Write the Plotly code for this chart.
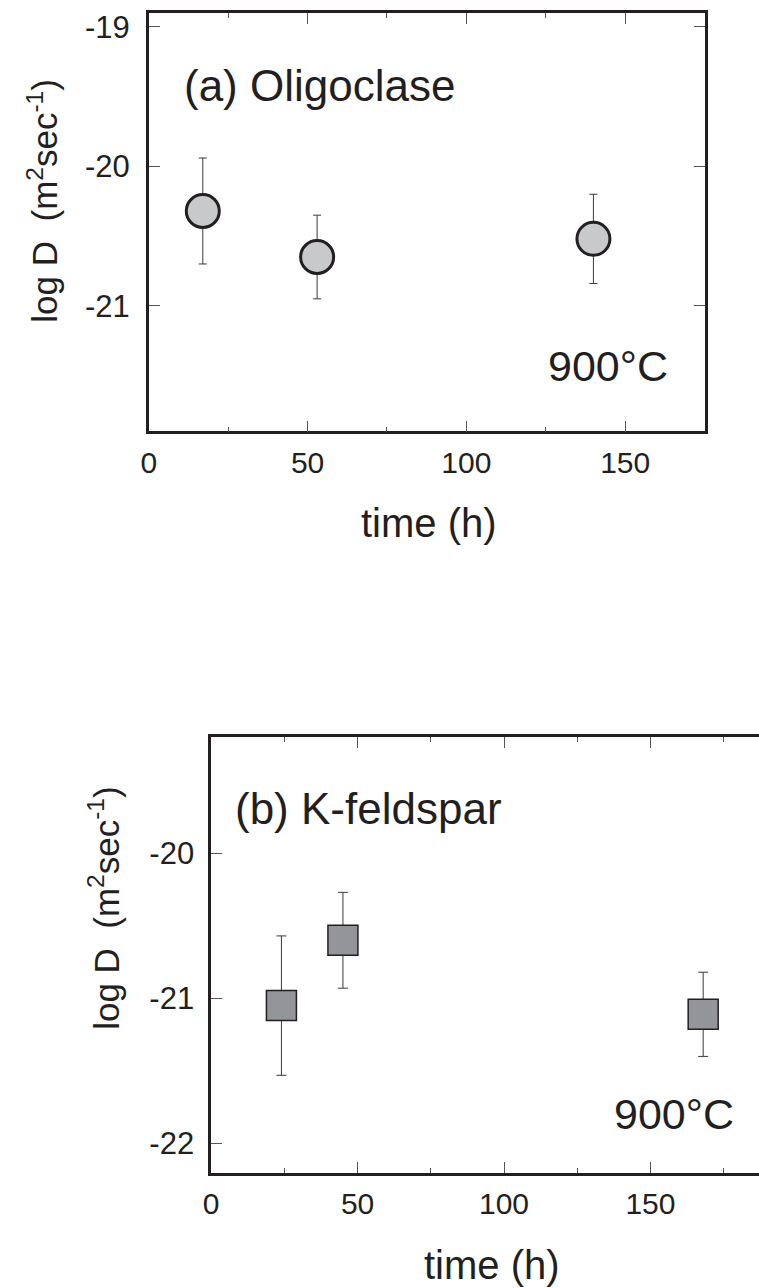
import plotly.graph_objects as go

# ---- data ----
olig_time = [17, 53, 140]
olig_logD = [-20.32, -20.65, -20.52]
olig_err = [0.38, 0.30, 0.32]

kfs_time = [24, 45, 168]
kfs_logD = [-21.05, -20.60, -21.11]
kfs_err = [0.48, 0.33, 0.29]

x_major = [0, 50, 100, 150]
x_minor = [25, 75, 125, 175]
y_ticks_a = [-19, -20, -21]
y_ticks_b = [-20, -21, -22]
y_text_a = ['-19', '-20', '-21']
y_text_b = ['-20', '-21', '-22']

W, H = 759, 1288
INK = '#231f20'
FONT = 'Liberation Sans, Arial, Helvetica, sans-serif'


def px_x(p):
    return p / W


def px_y(p):
    return 1 - p / H


fig = go.Figure()

fig.add_trace(go.Scatter(
    x=olig_time, y=olig_logD, mode='markers', xaxis='x', yaxis='y',
    error_y=dict(type='data', array=olig_err, color='#3a3a3a', thickness=1, width=4),
    marker=dict(symbol='circle', size=33, color='#c8c9cb', line=dict(color=INK, width=3)),
    showlegend=False))

fig.add_trace(go.Scatter(
    x=kfs_time, y=kfs_logD, mode='markers', xaxis='x2', yaxis='y2',
    error_y=dict(type='data', array=kfs_err, color='#3a3a3a', thickness=1, width=5),
    marker=dict(symbol='square', size=30, color='#939598', line=dict(color=INK, width=1.5)),
    showlegend=False))

axis_common = dict(showgrid=False, zeroline=False, showline=True, linecolor=INK, linewidth=2.5,
                   ticks='inside', ticklen=11, tickwidth=1, tickcolor='#555')
xfont = dict(family=FONT, size=30, color=INK)
yfont = dict(family=FONT, size=31, color=INK)
minor_x = dict(tickvals=x_minor, ticks='inside', ticklen=5, tickwidth=1, tickcolor='#555')

fig.update_layout(
    width=W, height=H, margin=dict(l=0, r=0, t=0, b=0),
    paper_bgcolor='white', plot_bgcolor='white',
    xaxis=dict(**axis_common, domain=[px_x(142.3), px_x(704)], range=[0, 175], anchor='y',
               tickvals=x_major, mirror='ticks', tickfont=xfont, ticklabelstandoff=3, minor=minor_x),
    yaxis=dict(**axis_common, domain=[px_y(429.3), px_y(10)], range=[-21.9, -18.9], anchor='x',
               tickvals=y_ticks_a, ticktext=y_text_a, mirror='ticks', tickfont=yfont, ticklabelstandoff=10),
    xaxis2=dict(**axis_common, domain=[px_x(205.3), 1.0], range=[0, (W - 205.3) / 2.96], anchor='y2',
                tickvals=x_major, mirror='ticks', tickfont=xfont, ticklabelstandoff=3, minor=minor_x),
    yaxis2=dict(**axis_common, domain=[px_y(1172.3), px_y(735.7)], range=[-22.2, -19.2], anchor='x2',
                tickvals=y_ticks_b, ticktext=y_text_b, mirror=False, tickfont=yfont, ticklabelstandoff=8),
)

ann = []
# panel labels
ann.append(dict(text='(a) Oligoclase', xref='x', yref='y', x=10.3, y=-19.42, xanchor='left', yanchor='middle',
                showarrow=False, font=dict(family=FONT, size=44, color=INK)))
ann.append(dict(text='900°C', xref='x', yref='y', x=164.0, y=-21.43, xanchor='right', yanchor='middle',
                showarrow=False, font=dict(family=FONT, size=43, color=INK)))
ann.append(dict(text='(b) K-feldspar', xref='x2', yref='y2', x=7.3, y=-19.69, xanchor='left', yanchor='middle',
                showarrow=False, font=dict(family=FONT, size=44, color=INK)))
ann.append(dict(text='900°C', xref='x2', yref='y2', x=179.3, y=-21.8, xanchor='right', yanchor='middle',
                showarrow=False, font=dict(family=FONT, size=43, color=INK)))
# axis titles
ytitle = 'log D  (m<sup>2</sup>sec<sup>-1</sup>)'
ann.append(dict(text=ytitle, xref='paper', yref='paper', x=px_x(35), y=px_y(198.5), textangle=-90,
                xanchor='center', yanchor='middle', showarrow=False, font=dict(family=FONT, size=35, color=INK)))
ann.append(dict(text=ytitle, xref='paper', yref='paper', x=px_x(97), y=px_y(907), textangle=-90,
                xanchor='center', yanchor='middle', showarrow=False, font=dict(family=FONT, size=35, color=INK)))
ann.append(dict(text='time (h)', xref='paper', yref='paper', x=px_x(425.7), y=px_y(521.7),
                xanchor='center', yanchor='middle', showarrow=False, font=dict(family=FONT, size=40, color=INK)))
ann.append(dict(text='time (h)', xref='paper', yref='paper', x=px_x(489), y=px_y(1265),
                xanchor='center', yanchor='middle', showarrow=False, font=dict(family=FONT, size=40, color=INK)))
fig.update_layout(annotations=ann)

fig.write_html('out.html')
